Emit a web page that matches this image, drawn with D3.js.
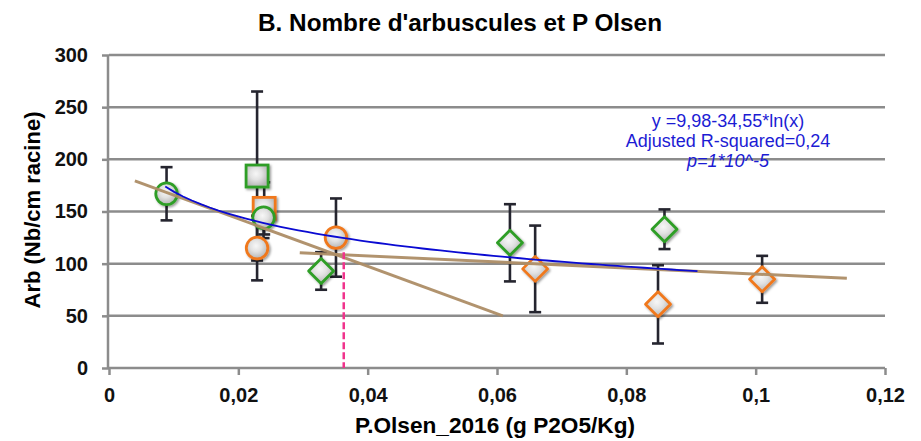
<!DOCTYPE html>
<html>
<head>
<meta charset="utf-8">
<script src="https://cdn.jsdelivr.net/npm/d3@7"></script>
<style>
  html, body { margin: 0; padding: 0; background: #fff; }
  svg { display: block; font-family: "Liberation Sans", Arial, sans-serif; }
</style>
</head>
<body>
<svg id="chart" width="921" height="441"></svg>
<script>
// ---- data ----
const xTicks = [0, 0.02, 0.04, 0.06, 0.08, 0.1, 0.12];
const xTickLabels = ["0", "0,02", "0,04", "0,06", "0,08", "0,1", "0,12"];
const yTicks = [0, 50, 100, 150, 200, 250, 300];

// green circles
const greenCircleX = [0.0089, 0.0239];
const greenCircleY = [167, 144];
const greenCircleErr = [25.5, 19.5];
// orange circles
const orangeCircleX = [0.0229, 0.0351];
const orangeCircleY = [115, 125];
const orangeCircleErr = [31, 37.5];
// green squares
const greenSquareX = [0.0229];
const greenSquareY = [184];
const greenSquareErr = [81];
// orange squares
const orangeSquareX = [0.0240];
const orangeSquareY = [153];
const orangeSquareErr = [25];
// green diamonds
const greenDiamondX = [0.0328, 0.0620, 0.0859];
const greenDiamondY = [93, 120, 133];
const greenDiamondErr = [18, 37, 19];
// orange diamonds
const orangeDiamondX = [0.0659, 0.0849, 0.1010];
const orangeDiamondY = [95, 61, 85];
const orangeDiamondErr = [41.5, 37.5, 22.5];

// log fit: y = a + b*ln(x)
const logFitA = 9.98;
const logFitB = -34.55;
const logFitRange = [0.0087, 0.091];
// two linear segments (endpoints)
const segment1X = [0.0040, 0.0609];
const segment1Y = [179.4, 50];
const segment2X = [0.0295, 0.1141];
const segment2Y = [110.4, 86];
// threshold marker
const thresholdX = 0.0363;
const thresholdY = 111;

const equationLines = ["y =9,98-34,55*ln(x)", "Adjusted R-squared=0,24", "p=1*10^-5"];

// ---- layout ----
const svg = d3.select("#chart");
const x = d3.scaleLinear().domain([0, 0.12]).range([109, 885]);
const y = d3.scaleLinear().domain([0, 300]).range([368, 55]);

const GREEN = "#2f9e26";
const ORANGE = "#f0781c";
const GRID = "#8c8c8c";

const defs = svg.append("defs");
const grad = defs.append("radialGradient").attr("id", "markerFill")
  .attr("cx", "45%").attr("cy", "40%").attr("r", "60%");
grad.append("stop").attr("offset", "0%").attr("stop-color", "#f7f7f7");
grad.append("stop").attr("offset", "45%").attr("stop-color", "#e2e2e2");
grad.append("stop").attr("offset", "100%").attr("stop-color", "#b4b4b4");
const shadow = defs.append("filter").attr("id", "shadow")
  .attr("x", "-30%").attr("y", "-30%").attr("width", "170%").attr("height", "170%");
shadow.append("feDropShadow").attr("dx", 1.5).attr("dy", 1.5)
  .attr("stdDeviation", 1.2).attr("flood-color", "#000").attr("flood-opacity", 0.4);

// title
svg.append("text")
  .attr("x", 460).attr("y", 31)
  .attr("text-anchor", "middle")
  .attr("font-size", 24).attr("font-weight", "bold")
  .attr("textLength", 404).attr("lengthAdjust", "spacingAndGlyphs")
  .text("B. Nombre d'arbuscules et P Olsen");

// y axis ticks and labels
const yAxis = svg.append("g").attr("transform", "translate(109,0)")
  .call(d3.axisLeft(y).tickValues(yTicks).tickSize(7).tickPadding(14).tickFormat(d3.format("d")));
yAxis.select(".domain").remove();
yAxis.selectAll(".tick line").attr("stroke", GRID).attr("stroke-width", 2.5);
yAxis.selectAll(".tick text")
  .attr("font-size", 20).attr("font-weight", "bold").attr("fill", "#111")
  .attr("font-family", "Liberation Sans, Arial, sans-serif");

// horizontal gridlines
svg.append("g")
  .selectAll("line").data(yTicks).join("line")
  .attr("x1", 109).attr("x2", 885)
  .attr("y1", d => y(d)).attr("y2", d => y(d))
  .attr("stroke", GRID).attr("stroke-width", 2.5);

svg.append("line")
  .attr("x1", 108).attr("x2", 108).attr("y1", y(300)).attr("y2", y(0))
  .attr("stroke", GRID).attr("stroke-width", 2.5);

// x axis
const xAxis = svg.append("g").attr("transform", `translate(0,${y(0)})`)
  .call(d3.axisBottom(x).tickValues(xTicks).tickSize(7).tickPadding(13)
    .tickFormat((d, i) => xTickLabels[i]));
xAxis.select(".domain").remove();
xAxis.selectAll(".tick line").attr("stroke", GRID).attr("stroke-width", 2.5);
xAxis.selectAll(".tick text")
  .attr("font-size", 20).attr("font-weight", "bold").attr("fill", "#111")
  .attr("font-family", "Liberation Sans, Arial, sans-serif");

// axis titles
svg.append("text")
  .attr("x", 495).attr("y", 433)
  .attr("text-anchor", "middle")
  .attr("font-size", 22).attr("font-weight", "bold")
  .attr("textLength", 280).attr("lengthAdjust", "spacingAndGlyphs")
  .text("P.Olsen_2016 (g P2O5/Kg)");

svg.append("text")
  .attr("transform", "translate(40,210) rotate(-90)")
  .attr("text-anchor", "middle")
  .attr("font-size", 22).attr("font-weight", "bold")
  .attr("textLength", 197).attr("lengthAdjust", "spacingAndGlyphs")
  .text("Arb (Nb/cm racine)");

// series table
function rows(xs, ys, errs, shape, color) {
  return xs.map((v, i) => ({ x: v, y: ys[i], err: errs[i], shape, color }));
}
const series = [
  rows(greenSquareX, greenSquareY, greenSquareErr, "square", GREEN),
  rows(orangeSquareX, orangeSquareY, orangeSquareErr, "square", ORANGE),
  rows(orangeCircleX, orangeCircleY, orangeCircleErr, "circle", ORANGE),
  rows(greenCircleX, greenCircleY, greenCircleErr, "circle", GREEN),
  rows(greenDiamondX, greenDiamondY, greenDiamondErr, "diamond", GREEN),
  rows(orangeDiamondX, orangeDiamondY, orangeDiamondErr, "diamond", ORANGE)
];
const points = series.flat();

// error bars
const eb = svg.append("g").attr("stroke", "#25252f").attr("stroke-width", 2.6);
points.forEach(p => {
  const cx = x(p.x), top = y(p.y + p.err), bot = y(p.y - p.err);
  eb.append("line").attr("x1", cx).attr("x2", cx).attr("y1", top).attr("y2", bot);
  eb.append("line").attr("x1", cx - 6).attr("x2", cx + 6).attr("y1", top).attr("y2", top);
  eb.append("line").attr("x1", cx - 6).attr("x2", cx + 6).attr("y1", bot).attr("y2", bot);
});

// markers
const mk = svg.append("g");
points.forEach(p => {
  const cx = x(p.x), cy = y(p.y);
  let el;
  if (p.shape === "circle") {
    el = mk.append("circle").attr("cx", cx).attr("cy", cy).attr("r", 10.8);
  } else if (p.shape === "square") {
    el = mk.append("rect").attr("x", cx - 11).attr("y", cy - 11).attr("width", 22).attr("height", 22);
  } else {
    el = mk.append("path")
      .attr("d", `M${cx},${cy - 12.5}L${cx + 12.5},${cy}L${cx},${cy + 12.5}L${cx - 12.5},${cy}Z`)
      .attr("stroke-linejoin", "round");
  }
  el.attr("fill", "url(#markerFill)").attr("stroke", p.color).attr("stroke-width", 2.8)
    .attr("filter", "url(#shadow)");
});

// trend lines
const line = d3.line().x(d => x(d[0])).y(d => y(d[1]));
const TAN = "#ad8d66";
svg.append("path")
  .attr("d", line(segment1X.map((v, i) => [v, segment1Y[i]])))
  .attr("stroke", TAN).attr("stroke-width", 3).attr("fill", "none").attr("opacity", 0.95);
svg.append("path")
  .attr("d", line(segment2X.map((v, i) => [v, segment2Y[i]])))
  .attr("stroke", TAN).attr("stroke-width", 3).attr("fill", "none").attr("opacity", 0.95);

const logX = d3.range(0, 61).map(i => logFitRange[0] + (logFitRange[1] - logFitRange[0]) * i / 60);
svg.append("path")
  .attr("d", line(logX.map(v => [v, logFitA + logFitB * Math.log(v)])))
  .attr("stroke", "#0a0ad2").attr("stroke-width", 1.8).attr("fill", "none");

// threshold marker
svg.append("line")
  .attr("x1", x(thresholdX)).attr("x2", x(thresholdX))
  .attr("y1", y(thresholdY)).attr("y2", y(0))
  .attr("stroke", "#f0338c").attr("stroke-width", 2.5).attr("stroke-dasharray", "7,3");

// equation annotation
const eq = svg.append("text").attr("text-anchor", "middle").attr("fill", "#1c1cd4").attr("font-size", 18);
equationLines.forEach((t, i) => {
  eq.append("tspan").attr("x", 728).attr("y", 127 + i * 20)
    .attr("font-style", i === 2 ? "italic" : "normal").text(t);
});
</script>
</body>
</html>
